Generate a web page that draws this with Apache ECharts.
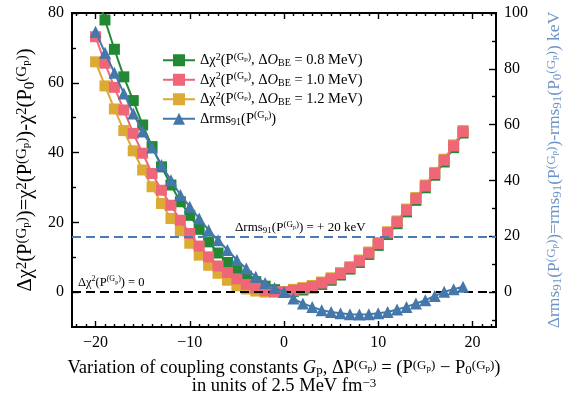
<!DOCTYPE html>
<html>
<head>
<meta charset="utf-8">
<script src="https://cdn.jsdelivr.net/npm/echarts@6/dist/echarts.min.js"></script>
<style>
  html, body { margin: 0; padding: 0; background: #fff; }
  #chart { width: 564px; height: 397px; }
</style>
</head>
<body>
<div id="chart"></div>
<script>
// variation of G_p in units of 2.5 MeV fm^-3
const xs = [-20, -19, -18, -17, -16, -15, -14, -13, -12, -11, -10, -9, -8, -7, -6, -5, -4, -3, -2, -1,
  0, 1, 2, 3, 4, 5, 6, 7, 8, 9, 10, 11, 12, 13, 14, 15, 16, 17, 18, 19]

// delta chi^2 for the three binding-energy errors
const chi08 = [86.5, 78.0, 69.6, 61.7, 54.9, 47.9, 41.7, 35.9, 30.7, 25.9, 22.0, 18.0, 14.4, 11.2, 8.5, 6.3, 4.6, 3.0, 1.7, 0.7,
  0.1, 0.2, 0.6, 1.2, 2.2, 3.4, 4.9, 6.6, 8.5, 10.8, 13.4, 16.5, 19.6, 23.0, 26.3, 29.9, 33.5, 37.3, 41.4, 45.6]
const chi10 = [73.2, 65.6, 58.7, 52.2, 45.5, 39.8, 34.0, 29.2, 24.9, 20.6, 16.8, 13.2, 10.1, 7.5, 5.6, 3.8, 2.2, 1.1, 0.4, 0.1,
  0.0, 0.5, 1.0, 1.6, 2.6, 3.8, 5.3, 7.0, 8.9, 11.2, 13.9, 17.0, 20.1, 23.5, 26.8, 30.4, 34.0, 37.8, 41.9, 46.0]
const chi12 = [66.0, 59.1, 52.5, 46.3, 40.5, 35.0, 30.2, 25.4, 21.1, 17.6, 14.0, 10.6, 7.7, 5.4, 3.4, 1.8, 0.9, 0.3, 0.0, 0.0,
  0.1, 0.8, 1.3, 1.9, 2.9, 4.1, 5.6, 7.3, 9.2, 11.5, 14.2, 17.3, 20.4, 23.8, 27.1, 30.7, 34.3, 38.1, 42.2, 46.3]
// delta rms_91 in keV (right axis)
const rms91 = [93.3, 85.8, 78.6, 71.2, 64.0, 57.5, 51.8, 45.5, 40.1, 34.8, 30.6, 26.4, 22.2, 18.6, 15.1, 11.5, 8.5, 5.5, 3.3, 1.5,
  0.0, -2.3, -4.1, -5.3, -6.5, -7.1, -7.6, -7.9, -8.0, -7.9, -7.6, -7.1, -6.2, -5.3, -4.1, -2.9, -1.4, 0.1, 1.0, 1.9]

const xMajor = [-20, -10, 0, 10, 20]
const xMinor = []
for (let i = -22; i <= 22; i++) if (i % 10 !== 0) xMinor.push(i)
const yLeftMajor = [0, 20, 40, 60, 80]
const yLeftMinor = [10, 30, 50, 70]
const yRightMajor = [0, 20, 40, 60, 80, 100]
const yRightMinor = [-10, 10, 30, 50, 70, 90]

const chiZero = 0
const rmsLine = 20

const serif = '"Liberation Serif", "DejaVu Serif", serif'
const rmsBlue = '#6d93c6'

const mathRich = (size, color, supRatio, lh) => {
  const r = supRatio || 0.66
  const lineH = lh || size + 2
  return {
    t: { fontSize: size, fontFamily: serif, color: color, lineHeight: lineH },
    i: { fontSize: size, fontFamily: serif, color: color, fontStyle: 'italic', lineHeight: lineH },
    sup: { fontSize: Math.round(size * r), fontFamily: serif, color: color, verticalAlign: 'top' },
    ssup: { fontSize: Math.round(size * r * 0.72), fontFamily: serif, color: color, verticalAlign: 'top', padding: [Math.round(size * 0.28), 0, 0, 0] },
    sub: { fontSize: Math.round(size * r), fontFamily: serif, color: color, verticalAlign: 'bottom' }
  }
}

const P = (sub) => '{t|P}' + (sub ? '{sub|' + sub + '}' : '') + '{sup|(G}{ssup|p}{sup|)}'

const legendText = {
  'e08': '{t|Δχ}{sup|2}{t|(}' + P() + '{t|, Δ}{i|O}{sub|BE}{t| = 0.8 MeV)}',
  'e10': '{t|Δχ}{sup|2}{t|(}' + P() + '{t|, Δ}{i|O}{sub|BE}{t| = 1.0 MeV)}',
  'e12': '{t|Δχ}{sup|2}{t|(}' + P() + '{t|, Δ}{i|O}{sub|BE}{t| = 1.2 MeV)}',
  'rms': '{t|Δrms}{sub|91}{t|(}' + P() + '{t|)}'
}

const pairs = (ys) => xs.map((x, i) => [x, ys[i]])

const tickAxis = (dim, pos, values, len, withLabel) => {
  const ax = {
    type: 'value',
    position: pos,
    min: dim === 'x' ? -22.5 : (pos === 'right' ? -12.5 : -10),
    max: dim === 'x' ? 22.5 : (pos === 'right' ? 100 : 80),
    splitLine: { show: false },
    axisLine: { show: true, onZero: false, lineStyle: { color: '#000', width: 1.8 } },
    axisTick: { show: true, inside: true, length: len, customValues: values, lineStyle: { color: '#000', width: 1.4 } },
    axisLabel: { show: false }
  }
  if (withLabel) {
    ax.axisLabel = {
      show: true,
      customValues: values,
      margin: 8,
      color: '#000',
      fontSize: 16,
      fontFamily: serif,
      formatter: (v) => v < 0 ? '−' + (-v) : String(v)
    }
  }
  return ax
}

const xMain = tickAxis('x', 'bottom', xMajor, 6, true)
xMain.name = '{t|Variation of coupling constants }{i|G}{sub|p}{t|, Δ}' + P() + '{t| = (}' + P() + '{t| − }' + P('0') + '{t|)}\n{t|in units of 2.5 MeV fm}{sup|−3}'
xMain.nameLocation = 'middle'
xMain.nameGap = 32
xMain.nameTextStyle = { rich: mathRich(18.5, '#000', 0.7, 18) }

const yLeft = tickAxis('y', 'left', yLeftMajor, 7, true)
yLeft.name = '{t|Δχ}{sup|2}{t|(}' + P() + '{t|)=χ}{sup|2}{t|(}' + P() + '{t|)-χ}{sup|2}{t|(}' + P('0') + '{t|)}'
yLeft.nameLocation = 'middle'
yLeft.nameGap = 31
yLeft.nameTextStyle = { rich: mathRich(20.5, '#000', 0.74) }

const yRight = tickAxis('y', 'right', yRightMajor, 7, true)
yRight.name = '{t|Δrms}{sub|91}{t|(}' + P() + '{t|)=rms}{sub|91}{t|(}' + P() + '{t|)-rms}{sub|91}{t|(}' + P('0') + '{t|) keV}'
yRight.nameLocation = 'middle'
yRight.nameGap = 49
yRight.nameTextStyle = { rich: mathRich(17.5, rmsBlue, 0.72) }

const squareSeries = (name, ys, color, z, extra) => Object.assign({
  name: name,
  type: 'line',
  xAxisIndex: 0,
  yAxisIndex: 0,
  data: pairs(ys),
  symbol: 'rect',
  symbolSize: 11,
  z: z,
  lineStyle: { color: color, width: 2 },
  itemStyle: { color: color },
  emphasis: { disabled: true },
  animation: false
}, extra || {})

const chart = echarts.init(document.getElementById('chart'))
chart.setOption({
  animation: false,
  backgroundColor: '#fff',
  grid: { left: 72, right: 68, top: 13, bottom: 70, outerBoundsMode: 'none', containLabel: false },
  legend: {
    data: ['e08', 'e10', 'e12', 'rms'],
    orient: 'vertical',
    left: 157,
    top: 47,
    itemWidth: 32,
    itemHeight: 15,
    itemGap: 3,
    formatter: (name) => legendText[name],
    textStyle: { rich: mathRich(14.5, '#000') }
  },
  xAxis: [
    xMain,
    tickAxis('x', 'bottom', xMinor, 3, false),
    tickAxis('x', 'top', xMajor, 6, false),
    tickAxis('x', 'top', xMinor, 3, false)
  ],
  yAxis: [
    yLeft,
    yRight,
    tickAxis('y', 'left', yLeftMinor, 4, false),
    tickAxis('y', 'right', yRightMinor, 4, false)
  ],
  graphic: [
    {
      type: 'text', left: 78, top: 275, silent: true,
      style: { text: '{t|Δχ}{sup|2}{t|(}' + P() + '{t|) = 0}', rich: mathRich(12.5, '#000') }
    },
    {
      type: 'text', left: 235, top: 220, silent: true,
      style: { text: '{t|Δrms}{sub|91}{t|(}' + P() + '{t|) = + 20 keV}', rich: mathRich(13, rmsBlue) }
    }
  ],
  series: [
    squareSeries('e08', chi08, '#228833', 2, {
      markLine: {
        silent: true, symbol: 'none', label: { show: false },
        lineStyle: { color: '#000', type: [9, 5], width: 2 },
        data: [{ yAxis: chiZero }]
      }
    }),
    squareSeries('e10', chi10, '#EE6677', 4),
    squareSeries('e12', chi12, '#DDAA33', 3),
    {
      name: 'rms',
      type: 'line',
      xAxisIndex: 0,
      yAxisIndex: 1,
      data: pairs(rms91),
      symbol: 'triangle',
      symbolSize: 12,
      z: 5,
      lineStyle: { color: '#4477AA', width: 2 },
      itemStyle: { color: '#4477AA' },
      emphasis: { disabled: true },
      markLine: {
        silent: true, symbol: 'none', label: { show: false },
        lineStyle: { color: '#4a7bb7', type: [9, 5], width: 2 },
        data: [{ yAxis: rmsLine }]
      }
    }
  ]
})
</script>
</body>
</html>
